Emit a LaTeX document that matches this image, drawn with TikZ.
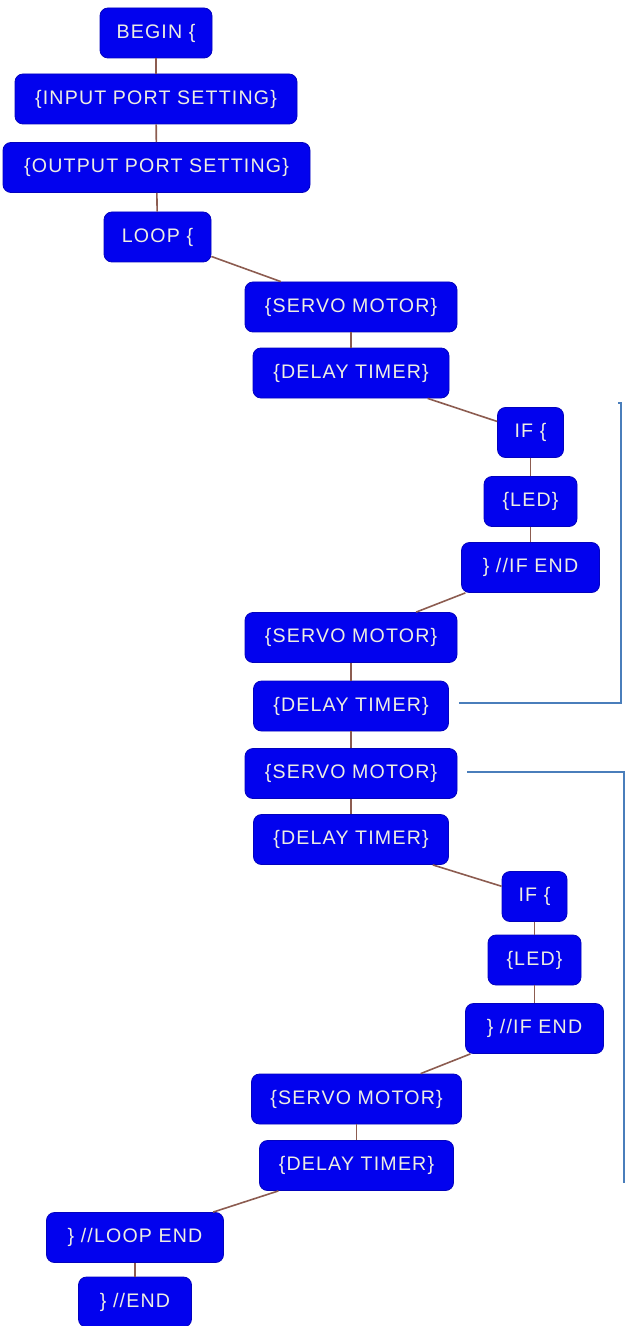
\documentclass[tikz,border=0pt]{standalone}
\usepackage{fontspec}
\setmainfont{Liberation Sans}
\newfontfamily\boxfont[LetterSpace=6]{Liberation Sans}
\begin{document}
\begin{tikzpicture}[x=0.5pt,y=-0.5pt,
  blk/.style={draw=boxblue!80!black, line width=0.4pt, fill=boxblue, rounded corners=4pt,
    text=boxtext, font=\boxfont\fontsize{9.8}{11}\selectfont, minimum height=25pt,
    inner sep=0pt, minimum width=#1},
  blk/.default=50pt,
  tree/.style={draw=treeline, line width=0.8pt},
  bracket/.style={draw=brk, line width=1.1pt}]
\definecolor{boxblue}{RGB}{2,2,238}
\definecolor{boxtext}{RGB}{238,238,226}
\definecolor{treeline}{RGB}{140,92,80}
\definecolor{brk}{RGB}{74,126,187}
\useasboundingbox (0,0) rectangle (625,1326);

\node[blk=56pt]   (begin)   at (156,33)    {BEGIN \{};
\node[blk=141pt]  (input)   at (156,99)    {\{INPUT PORT SETTING\}};
\node[blk=153.5pt](output)  at (156.5,167.5) {\{OUTPUT PORT SETTING\}};
\node[blk=53.5pt] (loop)    at (157.5,237) {LOOP \{};
\node[blk=106pt]  (servoA)  at (351,307)   {\{SERVO MOTOR\}};
\node[blk=98pt]   (delayA)  at (351,373)   {\{DELAY TIMER\}};
\node[blk=33pt]   (ifA)     at (530.5,432.5) {IF \{};
\node[blk=46.5pt] (ledA)    at (530.5,501.5) {\{LED\}};
\node[blk=69pt]   (ifendA)  at (530.5,567.5) {\} //IF END};
\node[blk=106pt]  (servoB)  at (351,637.5) {\{SERVO MOTOR\}};
\node[blk=97.5pt] (delayB)  at (351,706)   {\{DELAY TIMER\}};
\node[blk=106pt]  (servoC)  at (351,773.5) {\{SERVO MOTOR\}};
\node[blk=97.5pt] (delayC)  at (351,839.5) {\{DELAY TIMER\}};
\node[blk=32.5pt] (ifB)     at (534.5,896.5) {IF \{};
\node[blk=46.5pt] (ledB)    at (534.5,960) {\{LED\}};
\node[blk=69pt]   (ifendB)  at (534.5,1028.5) {\} //IF END};
\node[blk=105pt]  (servoD)  at (356.5,1099) {\{SERVO MOTOR\}};
\node[blk=97pt]   (delayD)  at (356.5,1165.5) {\{DELAY TIMER\}};
\node[blk=88.5pt] (loopend) at (135,1237.5) {\} //LOOP END};
\node[blk=56.5pt] (end)     at (135,1302)  {\} //END};

\foreach \a/\b in {begin/input,input/output,output/loop,loop/servoA,servoA/delayA,
  delayA/ifA,ifA/ledA,ledA/ifendA,ifendA/servoB,servoB/delayB,delayB/servoC,
  servoC/delayC,delayC/ifB,ifB/ledB,ledB/ifendB,ifendB/servoD,servoD/delayD,
  delayD/loopend,loopend/end}
  \draw[tree] (\a) -- (\b);

\coordinate (brAtop) at (621,403);
\coordinate (brBbot) at (624,1183);
\draw[bracket] ([xshift=5pt,yshift=1.5pt]delayB.east) -| (brAtop) -- ++(-3,0);
\draw[bracket] ([xshift=5pt,yshift=0.75pt]servoC.east) -| (brBbot);
\end{tikzpicture}
\end{document}
